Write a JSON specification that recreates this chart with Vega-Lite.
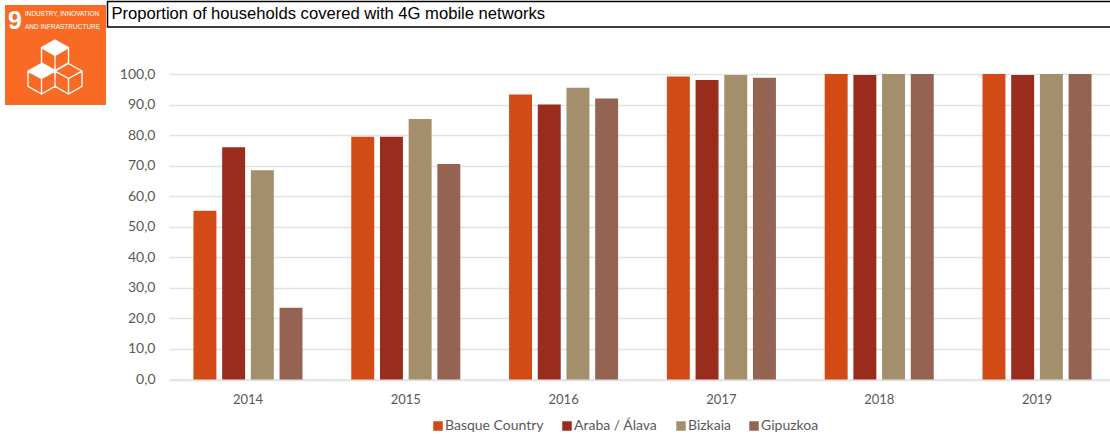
{
"$schema":"https://vega.github.io/schema/vega-lite/v6.json",
"padding":0,
"autosize":{"type":"pad"},
"background":"white",
"spacing":0,
"config":{"view":{"stroke":null},"concat":{"spacing":0}},
"hconcat":[
{"width":106,"height":104,
 "data":{"values":[{"a":1}]},
 "layer":[
  {"mark":{"type":"rect","fill":"#f96b24"},"encoding":{"x":{"datum":5,"type":"quantitative","scale":{"domain":[0,106],"nice":false},"axis":null},"x2":{"datum":106},"y":{"datum":4,"type":"quantitative","scale":{"domain":[104,0],"nice":false},"axis":null},"y2":{"datum":104}}},
  {"mark":{"type":"text","text":"9","font":"Liberation Sans","fontWeight":"bold","fontSize":25,"fill":"white","align":"center","baseline":"middle"},"encoding":{"x":{"datum":15,"type":"quantitative"},"y":{"datum":20,"type":"quantitative"}}},
  {"mark":{"type":"text","text":"INDUSTRY, INNOVATION","font":"Liberation Sans","fontSize":6.4,"fill":"white","align":"left","baseline":"middle"},"encoding":{"x":{"datum":25,"type":"quantitative"},"y":{"datum":13,"type":"quantitative"}}},
  {"mark":{"type":"text","text":"AND INFRASTRUCTURE","font":"Liberation Sans","fontSize":6.5,"fill":"white","align":"left","baseline":"middle"},"encoding":{"x":{"datum":25,"type":"quantitative"},"y":{"datum":26,"type":"quantitative"}}},
  {"mark":{"type":"point","filled":true,"fill":"white","opacity":1,"size":2916,"shape":"M0,-1 L.5,-.714 L0,-.43 L-.5,-.714Z M-.5,-.13 L0,.155 L-.5,.43 L-1,.155Z"},"encoding":{"x":{"datum":55,"type":"quantitative"},"y":{"datum":66,"type":"quantitative"}}},
  {"mark":{"type":"point","filled":false,"stroke":"white","strokeWidth":1.3,"opacity":1,"size":2916,"shape":"M0,-1 L.5,-.714 L.5,-.155 L0,.13 L-.5,-.155 L-.5,-.714 Z M-.5,-.714 L0,-.43 L.5,-.714 M0,-.43 L0,.13 M-.5,-.13 L0,.155 L0,.714 L-.5,1 L-1,.714 L-1,.155 Z M-1,.155 L-.5,.43 L0,.155 M-.5,.43 L-.5,1 M.5,-.13 L1,.155 L1,.714 L.5,1 L0,.714 L0,.155 Z M0,.155 L.5,.43 L1,.155 M.5,.43 L.5,1"},"encoding":{"x":{"datum":55,"type":"quantitative"},"y":{"datum":66,"type":"quantitative"}}}
 ]
},
{"spacing":39,"align":"none","vconcat":[
 {"width":947,"height":26,
  "data":{"values":[{"a":1}]},
  "layer":[
   {"mark":{"type":"rect","fill":"white","stroke":"#000","strokeWidth":1.5},"encoding":{"x":{"datum":106.5,"type":"quantitative","scale":{"domain":[168,1115],"nice":false,"zero":false},"axis":null},"x2":{"datum":1114},"y":{"datum":0.5,"type":"quantitative","scale":{"domain":[26,0],"nice":false},"axis":null},"y2":{"datum":26}}},
   {"mark":{"type":"text","text":"Proportion of households covered with 4G mobile networks","font":"Liberation Sans","fontSize":16.6,"fill":"#000","align":"left","baseline":"middle"},"encoding":{"x":{"datum":110.5,"type":"quantitative"},"y":{"datum":13,"type":"quantitative"}}}
  ]
 },
 {"width":947,"height":305.5,
  "data":{"values":[
   {"year":"2014","region":"Basque Country","value":55.2},{"year":"2014","region":"Araba / Álava","value":76.0},{"year":"2014","region":"Bizkaia","value":68.5},{"year":"2014","region":"Gipuzkoa","value":23.5},
   {"year":"2015","region":"Basque Country","value":79.5},{"year":"2015","region":"Araba / Álava","value":79.5},{"year":"2015","region":"Bizkaia","value":85.3},{"year":"2015","region":"Gipuzkoa","value":70.5},
   {"year":"2016","region":"Basque Country","value":93.3},{"year":"2016","region":"Araba / Álava","value":90.0},{"year":"2016","region":"Bizkaia","value":95.5},{"year":"2016","region":"Gipuzkoa","value":92.0},
   {"year":"2017","region":"Basque Country","value":99.2},{"year":"2017","region":"Araba / Álava","value":98.0},{"year":"2017","region":"Bizkaia","value":99.7},{"year":"2017","region":"Gipuzkoa","value":98.8},
   {"year":"2018","region":"Basque Country","value":100},{"year":"2018","region":"Araba / Álava","value":99.7},{"year":"2018","region":"Bizkaia","value":100},{"year":"2018","region":"Gipuzkoa","value":100},
   {"year":"2019","region":"Basque Country","value":100},{"year":"2019","region":"Araba / Álava","value":99.7},{"year":"2019","region":"Bizkaia","value":100},{"year":"2019","region":"Gipuzkoa","value":100}
  ]},
  "mark":{"type":"bar"},
  "encoding":{
   "x":{"field":"year","type":"ordinal","title":null,"scale":{"paddingInner":0.309,"paddingOuter":0.155},"axis":{"labelAngle":0,"labelFont":"Lato","labelFontSize":13,"labelColor":"#595959","ticks":false,"domain":true,"domainColor":"#e2e2e2","domainWidth":1.5,"labelPadding":14,"grid":false}},
   "y":{"field":"value","type":"quantitative","title":null,"scale":{"domain":[0,100],"nice":false},"axis":{"values":[0,10,20,30,40,50,60,70,80,90,100],"labelExpr":"replace(format(datum.value,'.1f'),'.',',')","labelFont":"Lato","labelFontSize":14,"labelColor":"#595959","ticks":false,"domain":false,"grid":true,"gridColor":"#e2e2e2","gridWidth":1.5,"labelPadding":14,"minExtent":61,"maxExtent":61}},
   "xOffset":{"field":"region","type":"nominal","sort":["Basque Country","Araba / Álava","Bizkaia","Gipuzkoa"],"scale":{"paddingInner":0.2,"paddingOuter":0}},
   "color":{"field":"region","type":"nominal","sort":["Basque Country","Araba / Álava","Bizkaia","Gipuzkoa"],"scale":{"domain":["Basque Country","Araba / Álava","Bizkaia","Gipuzkoa"],"range":["#d24a16","#9a2c1e","#a48f6c","#956352"]},
    "legend":{"title":null,"orient":"none","direction":"horizontal","legendX":431,"legendY":418,"symbolType":"square","symbolSize":90,"symbolStrokeWidth":0,"labelFont":"Lato","labelFontSize":14,"labelColor":"#595959","columnPadding":16,"labelOffset":0}}
  }
 }
]}
]
}
